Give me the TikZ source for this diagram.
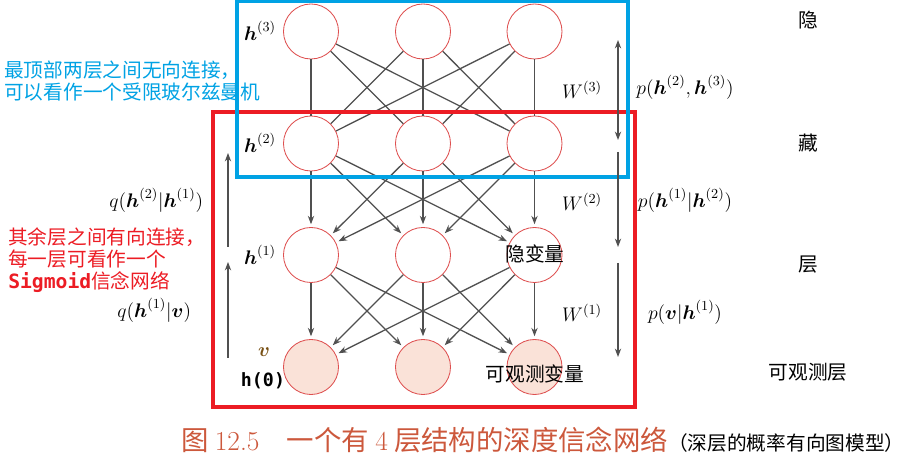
\RequirePackage{fix-cm}
\documentclass[tikz,border=0pt]{standalone}
\usepackage{amsmath}
\usepackage{fontspec}
\usepackage{tikz}
\usetikzlibrary{positioning,arrows.meta}
\newfontfamily\cjk{Noto Sans CJK SC}
\newfontfamily\monobf[BoldFont={DejaVu Sans Mono Bold}]{DejaVu Sans Mono}
\definecolor{nodered}{RGB}{222,80,80}
\definecolor{visfill}{RGB}{250,226,216}
\definecolor{rbmblue}{RGB}{0,162,228}
\definecolor{sbnred}{RGB}{236,28,36}
\definecolor{capcol}{RGB}{204,88,60}
\definecolor{vcol}{RGB}{120,80,20}
\definecolor{linkgray}{RGB}{80,80,80}
\tikzset{
  >={Stealth[length=6pt,width=4.5pt]},
  unit/.style={draw=nodered, circle, line width=0.6pt, minimum size=1.375cm, inner sep=0pt},
  vis/.style={unit, fill=visfill},
  link/.style={draw=linkgray, line width=0.9pt},
  flow/.style={link, ->, shorten >=2pt},
  both/.style={link, <->},
  frame/.style={line width=3pt},
  mlab/.style={font=\fontsize{14}{17}\selectfont},
  clab/.style={font=\cjk\fontsize{14}{16}\selectfont, inner sep=0pt},
  note/.style={font=\cjk\fontsize{14}{15.8}\selectfont, align=left, inner sep=0pt}
}
\begin{document}
\begin{tikzpicture}[x=0.025cm, y=-0.025cm]
\useasboundingbox (0,0) rectangle (909,457);
% units
\node[unit] (h3a) at (311,31.5) {};
\node[unit] (h3b) at (423,31.5) {};
\node[unit] (h3c) at (534.5,31.5) {};
\node[unit] (h2a) at (311,143.5) {};
\node[unit] (h2b) at (423,143.5) {};
\node[unit] (h2c) at (534.5,143.5) {};
\node[unit] (h1a) at (311,255) {};
\node[unit] (h1b) at (423,255) {};
\node[unit] (h1c) at (534.5,255) {};
\node[vis] (va) at (311,367) {};
\node[vis] (vb) at (423,367) {};
\node[vis] (vc) at (534.5,367) {};
\foreach \s in {a,b,c}{
  \foreach \t in {a,b,c}{
    \draw[link] (h3\s) -- (h2\t);
    \draw[flow] (h2\s) -- (h1\t);
    \draw[flow] (h1\s) -- (v\t);
  }
}
% frames
\node[draw=sbnred, frame, minimum width=10.55cm, minimum height=7.375cm, inner sep=0pt] (sbn) at (424,259.5) {};
\node[draw=rbmblue, frame, minimum width=9.775cm, minimum height=4.4cm, inner sep=0pt] (rbm) at (432.5,89) {};
% layer names
\node[mlab] (l3) at (260,31) {$\boldsymbol{h}^{(3)}$};
\node[mlab] (l2) at (260,143) {$\boldsymbol{h}^{(2)}$};
\node[mlab] (l1) at (260,255) {$\boldsymbol{h}^{(1)}$};
\node[mlab, text=vcol] (l0) at (264,352) {$\boldsymbol{v}$};
\node[font=\monobf\bfseries\fontsize{13}{15}\selectfont, inner sep=0pt] (h0) at (263,381) {h(0)};
\node[clab] (hid) at (535,254) {隐变量};
\node[clab] (obs) at (535,374) {可观测变量};
% weights
\node[mlab] (w3) at (582,90) {$W^{(3)}$};
\node[mlab] (w2) at (582,202) {$W^{(2)}$};
\node[mlab] (w1) at (582,313) {$W^{(1)}$};
% generative side
\coordinate (g3) at (618,40);
\coordinate (g2) at (618,140);
\coordinate (g2b) at (618,152);
\coordinate (g1) at (618,247);
\coordinate (g1b) at (618,263);
\coordinate (g0) at (618,357);
\draw[both] (g3) -- (g2);
\draw[link, ->] (g2b) -- (g1);
\draw[link, ->] (g1b) -- (g0);
\node[mlab] (p3) at (685,87) {$p(\boldsymbol{h}^{(2)},\boldsymbol{h}^{(3)})$};
\node[mlab] (p2) at (685,200) {$p(\boldsymbol{h}^{(1)}|\boldsymbol{h}^{(2)})$};
\node[mlab] (p1) at (685,312) {$p(\boldsymbol{v}|\boldsymbol{h}^{(1)})$};
% recognition side
\coordinate (q1) at (228,247);
\coordinate (q2) at (228,153);
\coordinate (q0) at (228,358);
\coordinate (q1b) at (228,262);
\draw[link, ->] (q1) -- (q2);
\draw[link, ->] (q0) -- (q1b);
\node[mlab, anchor=east] (qa) at (208,200) {$q(\boldsymbol{h}^{(2)}|\boldsymbol{h}^{(1)})$};
\node[mlab, anchor=east] (qb) at (196,310) {$q(\boldsymbol{h}^{(1)}|\boldsymbol{v})$};
% side words
\node[clab] (c1) at (808,20) {隐};
\node[clab] (c2) at (808,143) {藏};
\node[clab] (c3) at (808,265) {层};
\node[clab] (c4) at (808,372) {可观测层};
% notes
\node[note, text=rbmblue, anchor=west] (nb) at (4,81) {最顶部两层之间无向连接，\\可以看作一个受限玻尔兹曼机};
\node[note, text=sbnred, anchor=west] (nr) at (8,260) {其余层之间有向连接，\\每一层可看作一个\\{\monobf\bfseries Sigmoid}信念网络};
% caption
\node[anchor=west, inner sep=0pt] (cap) at (181,440) {{\color{capcol}\cjk\fontsize{19.5}{21}\selectfont 图 {\rmfamily 12.5}\quad 一个有 {\rmfamily 4} 层结构的深度信念网络}{\cjk\fontsize{14}{16}\selectfont （深层的概率有向图模型）}};
\end{tikzpicture}
\end{document}
